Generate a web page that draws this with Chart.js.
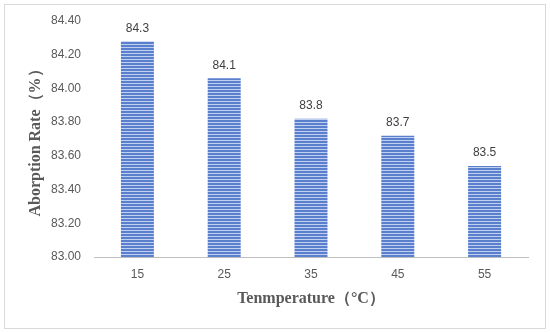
<!DOCTYPE html>
<html>
<head>
<meta charset="utf-8">
<script src="https://cdn.jsdelivr.net/npm/chart.js@4/dist/chart.umd.min.js"></script>
<style>
  html, body { margin: 0; padding: 0; background: #fff; }
  #wrap { position: relative; width: 550px; height: 333px; }
  #frame { position: absolute; left: 4px; top: 4px; width: 540px; height: 323px; border: 1px solid #d9d9d9; pointer-events: none; }
</style>
</head>
<body>
<div id="wrap">
  <canvas id="absChart" width="550" height="333"></canvas>
  <div id="frame"></div>
</div>
<script>
const temperatures = ["15", "25", "35", "45", "55"];
const absorptionRate = [84.28, 84.06, 83.82, 83.72, 83.54];
const yMin = 83.0;
const yMax = 84.4;
const yStep = 0.2;

function stripePattern() {
  const c = document.createElement("canvas");
  c.width = 1;
  c.height = 3;
  const g = c.getContext("2d");
  g.fillStyle = "#5a7fcc";
  g.fillRect(0, 0, 1, 2);
  g.fillStyle = "#bfcff0";
  g.fillRect(0, 2, 1, 1);
  return g.createPattern(c, "repeat");
}

// value labels above bars
const barLabels = {
  id: "barLabels",
  afterDatasetsDraw(chart) {
    const ctx = chart.ctx;
    const meta = chart.getDatasetMeta(0);
    ctx.save();
    ctx.font = "12px 'Liberation Sans', Arial, sans-serif";
    ctx.fillStyle = "#404040";
    ctx.textAlign = "center";
    ctx.textBaseline = "bottom";
    meta.data.forEach((bar, i) => {
      ctx.fillText(absorptionRate[i].toFixed(1), bar.x, bar.y - 7);
    });
    ctx.restore();
  },
};

const ctx = document.getElementById("absChart").getContext("2d");

new Chart(ctx, {
  type: "bar",
  data: {
    labels: temperatures,
    datasets: [
      {
        data: absorptionRate,
        backgroundColor: stripePattern(),
        borderWidth: 0,
        barPercentage: 0.38,
        categoryPercentage: 1,
      },
    ],
  },
  options: {
    responsive: false,
    animation: false,
    layout: { padding: { top: 21, right: 22, left: 0, bottom: 0 } },
    plugins: {
      legend: { display: false },
      tooltip: { enabled: false },
    },
    scales: {
      x: {
        afterFit: (scale) => { scale.height = 76; },
        grid: { display: true, color: "transparent", drawTicks: false },
        border: { display: true, color: "#bfbfbf", width: 1 },
        ticks: {
          padding: 10,
          color: "#595959",
          font: { family: "'Liberation Sans', Arial, sans-serif", size: 12 },
        },
        title: {
          display: true,
          text: "Tenmperature（°C）",
          color: "#595959",
          font: { family: "'Liberation Serif', 'Times New Roman', serif", size: 16, weight: "bold" },
          padding: { top: 0, bottom: 25 },
        },
      },
      y: {
        min: yMin,
        max: yMax,
        afterFit: (scale) => { scale.width = 94; },
        grid: { display: false, drawTicks: false },
        border: { display: false },
        ticks: {
          stepSize: yStep,
          padding: 13,
          color: "#595959",
          font: { family: "'Liberation Sans', Arial, sans-serif", size: 12 },
          callback: (v) => Number(v).toFixed(2),
        },
        title: {
          display: true,
          text: "Aborption Rate（%）",
          color: "#595959",
          font: { family: "'Liberation Serif', 'Times New Roman', serif", size: 16, weight: "bold" },
          padding: { top: 26, bottom: 0 },
        },
      },
    },
  },
  plugins: [barLabels],
});
</script>
</body>
</html>
